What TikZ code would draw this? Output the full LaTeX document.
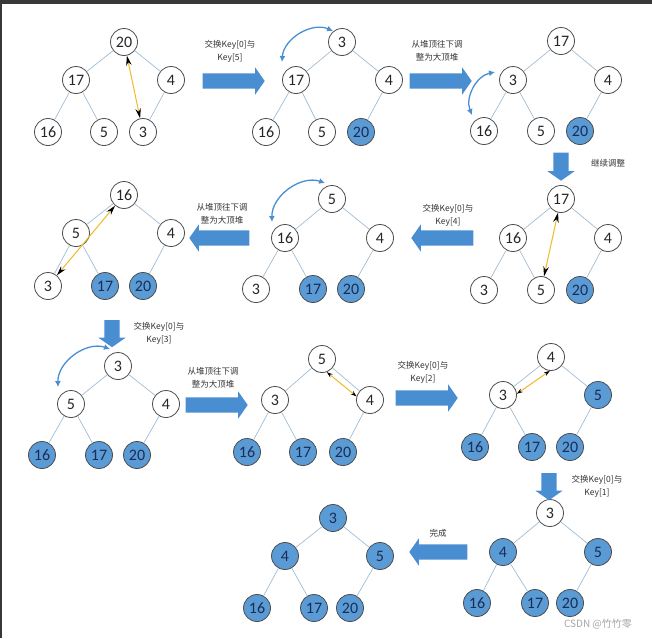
\documentclass[tikz,border=0pt]{standalone}
\usepackage{fontspec}
\setmainfont{Carlito}
\newfontfamily\cjkfont{Noto Sans CJK SC}
\usetikzlibrary{shapes.arrows,arrows.meta}
\definecolor{heapblue}{RGB}{91,155,213}
\definecolor{arrowblue}{RGB}{74,142,210}
\definecolor{edgecol}{RGB}{160,190,215}
\definecolor{swapcol}{RGB}{240,185,40}
\definecolor{navytxt}{RGB}{25,45,85}
\tikzset{
  nd/.style={circle,draw=black!70,line width=0.8pt,fill=white,minimum size=27pt,inner sep=0pt,font=\fontsize{16}{16}\selectfont,text=black!85},
  fl/.style={nd,fill=heapblue,text=navytxt},
  ed/.style={draw=edgecol,line width=0.7pt},
  bigarrow/.style={single arrow,draw=none,fill=arrowblue,minimum width=27pt,single arrow head extend=6pt,single arrow tip angle=110,inner xsep=0pt,inner ysep=7.5pt,text height=0pt,text depth=0pt,text width=0pt},
  downarrow/.style={bigarrow,inner xsep=7.5pt,inner ysep=0pt,shape border rotate=270},
  lbl/.style={font=\cjkfont\fontsize{8.5}{13}\selectfont,text=black!80,align=center,inner sep=0pt},
  curv/.style={draw=arrowblue,line width=1.3pt,{Latex[length=6pt,width=6pt]}-{Latex[length=6pt,width=6pt]}},
  swp/.style={draw=swapcol,line width=1pt,{Stealth[black,length=10pt,width=5.5pt]}-{Stealth[black,length=10pt,width=5.5pt]}},
  swps/.style={draw=swapcol,line width=1pt,{Stealth[black,length=6pt,width=4pt]}-{Stealth[black,length=6pt,width=4pt]}}
}
\begin{document}
\begin{tikzpicture}[x=1pt,y=-1pt]
\useasboundingbox (0,0) rectangle (652,638);
\fill[black!78] (0,0) rectangle (652,638);
\fill[white] (2,4) rectangle (652,638);

% ---------- Tree 1
\node[nd] (t1a) at (124,42) {20};
\node[nd] (t1b) at (76,80) {17};
\node[nd] (t1c) at (171,80) {4};
\node[nd] (t1d) at (48,132) {16};
\node[nd] (t1e) at (104,132) {5};
\node[nd] (t1f) at (143,132) {3};
% ---------- Tree 2
\node[nd] (t2a) at (342,42) {3};
\node[nd] (t2b) at (296,80) {17};
\node[nd] (t2c) at (389,80) {4};
\node[nd] (t2d) at (266,132) {16};
\node[nd] (t2e) at (322,132) {5};
\node[fl] (t2f) at (361,132) {20};
% ---------- Tree 3
\node[nd] (t3a) at (561,41) {17};
\node[nd] (t3b) at (513,80) {3};
\node[nd] (t3c) at (608,80) {4};
\node[nd] (t3d) at (484,131) {16};
\node[nd] (t3e) at (541,131) {5};
\node[fl] (t3f) at (580,131) {20};
% ---------- Tree 4
\node[nd] (t4a) at (561,199) {17};
\node[nd] (t4b) at (513,238) {16};
\node[nd] (t4c) at (608,238) {4};
\node[nd] (t4d) at (484,290) {3};
\node[nd] (t4e) at (541,290) {5};
\node[fl] (t4f) at (580,290) {20};
% ---------- Tree 5
\node[nd] (t5a) at (332,199) {5};
\node[nd] (t5b) at (285,238) {16};
\node[nd] (t5c) at (380,238) {4};
\node[nd] (t5d) at (256,289) {3};
\node[fl] (t5e) at (313,289) {17};
\node[fl] (t5f) at (351,289) {20};
% ---------- Tree 6
\node[nd] (t6a) at (124,195) {16};
\node[nd] (t6b) at (76,233) {5};
\node[nd] (t6c) at (171,233) {4};
\node[nd] (t6d) at (48,286) {3};
\node[fl] (t6e) at (105,286) {17};
\node[fl] (t6f) at (143,286) {20};
% ---------- Tree 7
\node[nd] (t7a) at (118,366) {3};
\node[nd] (t7b) at (71,404) {5};
\node[nd] (t7c) at (166,404) {4};
\node[fl] (t7d) at (42,455) {16};
\node[fl] (t7e) at (99,455) {17};
\node[fl] (t7f) at (137,455) {20};
% ---------- Tree 8
\node[nd] (t8a) at (322,359) {5};
\node[nd] (t8b) at (275,400) {3};
\node[nd] (t8c) at (370,400) {4};
\node[fl] (t8d) at (247,452) {16};
\node[fl] (t8e) at (303,452) {17};
\node[fl] (t8f) at (343,452) {20};
% ---------- Tree 9
\node[nd] (t9a) at (551,357) {4};
\node[nd] (t9b) at (503,395) {3};
\node[fl] (t9c) at (598,395) {5};
\node[fl] (t9d) at (475,447) {16};
\node[fl] (t9e) at (532,447) {17};
\node[fl] (t9f) at (570,447) {20};
% ---------- Tree 10
\node[nd] (t10a) at (550,513) {3};
\node[fl] (t10b) at (503,552) {4};
\node[fl] (t10c) at (598,552) {5};
\node[fl] (t10d) at (477,603) {16};
\node[fl] (t10e) at (535,603) {17};
\node[fl] (t10f) at (570,603) {20};
% ---------- Tree 11
\node[fl] (t11a) at (333,518) {3};
\node[fl] (t11b) at (285,556) {4};
\node[fl] (t11c) at (380,556) {5};
\node[fl] (t11d) at (257,608) {16};
\node[fl] (t11e) at (314,608) {17};
\node[fl] (t11f) at (350,608) {20};

% edges
\foreach \t in {t1,t2,t3,t4,t5,t6,t7,t8,t9,t10,t11}{
  \draw[ed] (\t a) -- (\t b);
  \draw[ed] (\t a) -- (\t c);
  \draw[ed] (\t b) -- (\t d);
  \draw[ed] (\t b) -- (\t e);
  \draw[ed] (\t c) -- (\t f);
}

% swap arrows (orange)
\draw[swp] (t1a) -- (t1f);
\draw[swp] (t4a) -- (t4e);
\draw[swp] (t6a) -- (t6d);
\draw[swps] (t8a.-70) -- (t8c.165);
\draw[swps] (t9a.-95) -- (t9b.5);

% curved blue swap arrows
\draw[curv] ([shift={(-14,-18)}]t2b.center) to[bend left=55] ([shift={(-9,-11)}]t2a.center);
\draw[curv] ([shift={(-12,-16)}]t3d.center) to[bend left=50] ([shift={(-18,-8)}]t3b.center);
\draw[curv] ([shift={(-13,-16)}]t5b.center) to[bend left=55] ([shift={(-7,-16)}]t5a.center);
\draw[curv] ([shift={(-13,-17)}]t7b.center) to[bend left=55] ([shift={(-8,-17)}]t7a.center);

% big block arrows
\node[bigarrow,minimum height=62pt] (r1) at (231,81) {};
\node[bigarrow,minimum height=62pt] (r2) at (438,81) {};
\node[downarrow,minimum height=28pt] (d1) at (561,164) {};
\node[bigarrow,minimum height=62pt,shape border rotate=180] (l1) at (445,238) {};
\node[bigarrow,minimum height=60pt,shape border rotate=180] (l2) at (222,238) {};
\node[downarrow,minimum height=27pt] (d2) at (112,331) {};
\node[bigarrow,minimum height=62pt] (r3) at (214,405) {};
\node[bigarrow,minimum height=62pt] (r4) at (424,398) {};
\node[downarrow,minimum height=27pt] (d3) at (549,484) {};
\node[bigarrow,minimum height=58pt,shape border rotate=180] (l3) at (441,552) {};

% labels
\node[lbl] (lr1) at (230,51) {交换Key[0]与\\Key[5]};
\node[lbl] (lr2) at (437,51) {从堆顶往下调\\整为大顶堆};
\node[lbl] (ld1) at (608,163) {继续调整};
\node[lbl] (ll1) at (448,215) {交换Key[0]与\\Key[4]};
\node[lbl] (ll2) at (222,214) {从堆顶往下调\\整为大顶堆};
\node[lbl] (ld2) at (159,333) {交换Key[0]与\\Key[3]};
\node[lbl] (lr3) at (213,378) {从堆顶往下调\\整为大顶堆};
\node[lbl] (lr4) at (423,372) {交换Key[0]与\\Key[2]};
\node[lbl] (ld3) at (597,486) {交换Key[0]与\\Key[1]};
\node[lbl] (ll3) at (438,533) {完成};
\node[font=\cjkfont\fontsize{10}{10}\selectfont,text=black!35,inner sep=0pt] (wm) at (598,624) {CSDN @竹竹零};
\end{tikzpicture}
\end{document}
